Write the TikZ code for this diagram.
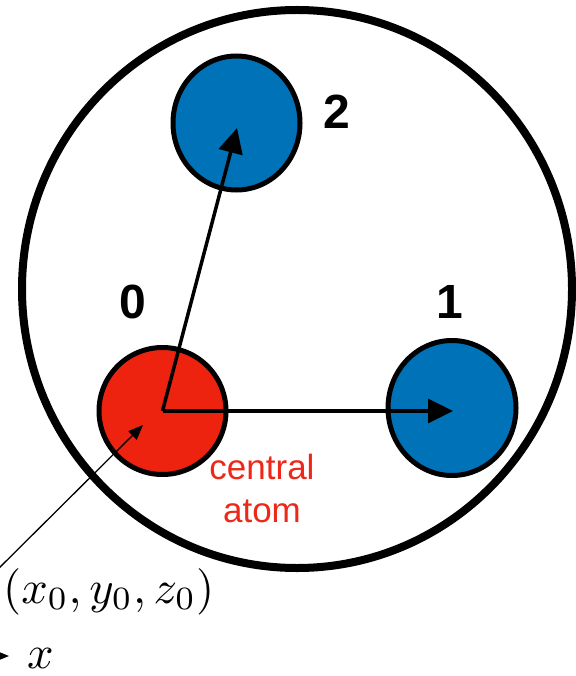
\documentclass[tikz,border=0pt]{standalone}
\usepackage{fontspec}
\newfontfamily\labfont{Liberation Sans}
\usetikzlibrary{arrows.meta,shapes.geometric}
\definecolor{atomred}{RGB}{237,34,15}
\definecolor{atomblue}{RGB}{0,114,184}
\definecolor{textred}{RGB}{237,40,25}
\begin{document}
\begin{tikzpicture}[x=1pt,y=-1pt,
  cell/.style={ellipse, draw, line width=8pt, minimum width=550pt, minimum height=558pt, inner sep=0pt},
  atom/.style={ellipse, draw, line width=5pt, inner sep=0pt},
  bond/.style={line width=3.5pt, -{Triangle[length=25pt,width=24pt]}},
  pointer/.style={line width=1.3pt, -{Triangle[length=15pt,width=12pt]}},
  num/.style={font=\labfont\bfseries\fontsize{48}{48}\selectfont, inner sep=0pt},
  mathlab/.style={inner sep=0pt}]
\useasboundingbox (0,0) rectangle (575,676);
\node[cell] (cell) at (297,289) {};
\node[atom, fill=atomred, minimum width=127pt, minimum height=127pt] (a0) at (162.5,411) {};
\node[atom, fill=atomblue, minimum width=128pt, minimum height=135pt] (a1) at (452,408) {};
\node[atom, fill=atomblue, minimum width=127pt, minimum height=134pt] (a2) at (236.5,123) {};
\coordinate (t1) at (453,411);
\coordinate (t2) at (237,128);
\draw[bond] (a0.center) -- (t1);
\draw[bond] (a0.center) -- (t2);
\node[num] (l0) at (133,302) {0};
\node[num] (l1) at (450,302) {1};
\node[num] (l2) at (337,112) {2};
\node[font=\labfont\fontsize{35}{43}\selectfont, text=textred, align=center, inner sep=0pt] (ca) at (262,488.5) {central\\atom};
\coordinate (p0) at (-20,587);
\coordinate (p1) at (143,425);
\draw[pointer] (p0) -- (p1);
\node[mathlab, anchor=base west] (pos) at (3,603) {\scalebox{4.65}{$(x_0, y_0, z_0)$}};
\coordinate (x0) at (-40,656);
\coordinate (x1) at (9,656);
\draw[pointer] (x0) -- (x1);
\node[mathlab, anchor=base] (xl) at (40.5,668) {\scalebox{4.65}{$x$}};
\end{tikzpicture}
\end{document}
